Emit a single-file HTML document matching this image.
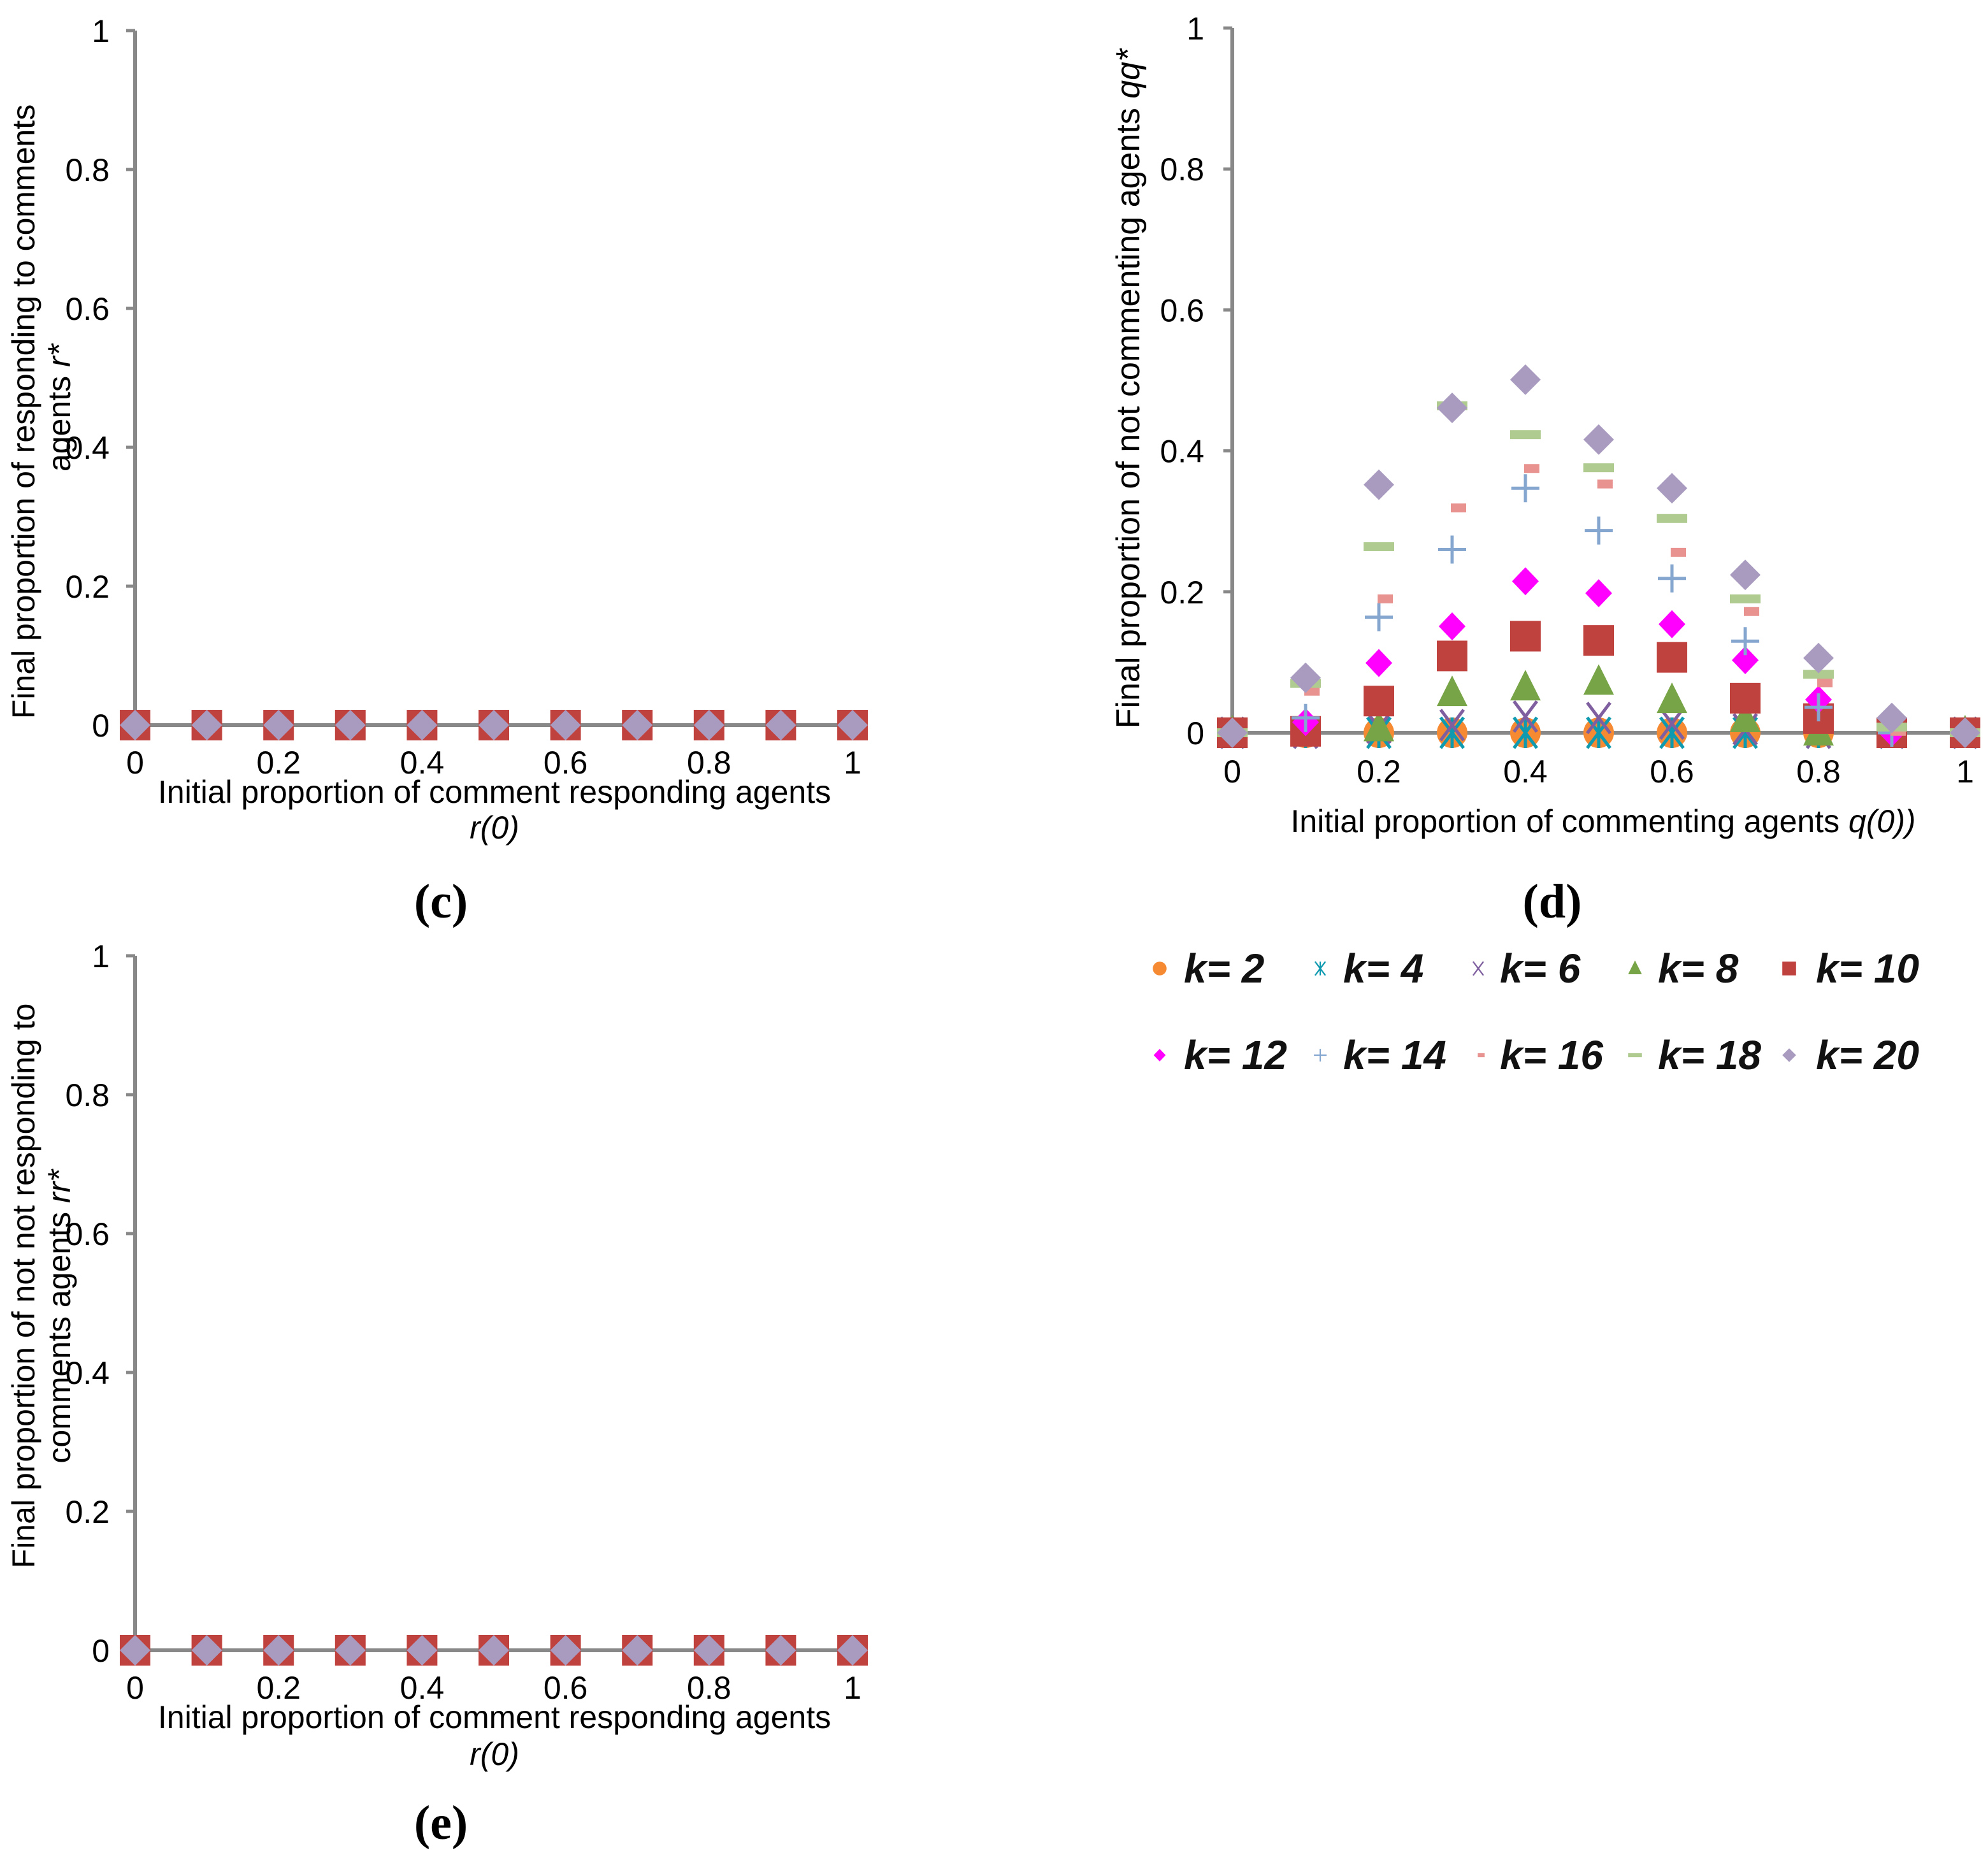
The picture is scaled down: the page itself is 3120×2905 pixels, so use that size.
<!DOCTYPE html>
<html><head><meta charset="utf-8">
<style>
html,body{margin:0;padding:0;background:#fff;}
svg{display:block;font-family:"Liberation Sans",sans-serif;}
</style></head>
<body>
<svg id="root" width="3120" height="2905" viewBox="0 0 3120 2905" xmlns="http://www.w3.org/2000/svg"></svg>
<script>
const xCats = [0,0.1,0.2,0.3,0.4,0.5,0.6,0.7,0.8,0.9,1];
const xTicks = [0,0.2,0.4,0.6,0.8,1];
const yTicks = [0,0.2,0.4,0.6,0.8,1];
const kLabels = ["k= 2","k= 4","k= 6","k= 8","k= 10","k= 12","k= 14","k= 16","k= 18","k= 20"];
const k2 = [0,0,0,0,0,0,0,0,0,0,0];
const k4 = [0,0,0,0,0,0,0,0,0,0,0];
const k6 = [0,0,0.007,0.011,0.023,0.021,0.013,0.005,0,0,0];
const k8 = [0,0,0.006,0.056,0.064,0.072,0.046,0.019,0,0,0];
const k10 = [0,0.002,0.045,0.109,0.137,0.131,0.107,0.049,0.02,0,0];
const k12 = [0,0.015,0.099,0.151,0.215,0.198,0.154,0.103,0.047,0,0];
const k14 = [0,0.021,0.164,0.26,0.347,0.287,0.219,0.13,0.036,0,0];
const k16 = [0,0.059,0.19,0.319,0.375,0.353,0.256,0.172,0.071,0.002,0];
const k18 = [0,0.07,0.264,0.464,0.423,0.376,0.304,0.19,0.083,0.008,0];
const k20 = [0,0.078,0.352,0.461,0.501,0.416,0.347,0.224,0.106,0.021,0];
const cZero = [0,0,0,0,0,0,0,0,0,0,0];

const NS="http://www.w3.org/2000/svg";
const root=document.getElementById('root');
function mk(tag,attrs,parent){const e=document.createElementNS(NS,tag);for(const k in attrs)e.setAttribute(k,attrs[k]);(parent||root).appendChild(e);return e;}
function txt(s,x,y,size,parent,extra){const t=mk('text',Object.assign({x:x,y:y,'font-size':size,fill:'#000'},extra||{}),parent);t.textContent=s;return t;}

const styles=[
 {c:'#F58A32',m:'circle'},{c:'#0F9AB0',m:'star'},{c:'#7F5F9F',m:'x'},{c:'#77A446',m:'tri'},
 {c:'#C0423F',m:'square'},{c:'#FF00FF',m:'diamondS'},{c:'#85A6CF',m:'plus'},{c:'#E89390',m:'small'},
 {c:'#AFCB8F',m:'dash'},{c:'#A99BC0',m:'diamond'}];

function marker(g,type,color,x,y,s){
  s=s||1;let e;
  if(type==='circle'){e=mk('ellipse',{cx:x,cy:y,rx:24*s,ry:24*s,fill:color},g);}
  else if(type==='square'){e=mk('rect',{x:x-24*s,y:y-24*s,width:48*s,height:48*s,fill:color},g);}
  else if(type==='small'){e=mk('rect',{x:x+10*s-12*s,y:y-7*s,width:24*s,height:14*s,fill:color},g);}
  else if(type==='dash'){e=mk('rect',{x:x-24*s,y:y-7*s,width:48*s,height:14*s,fill:color},g);}
  else if(type==='diamond'){e=mk('polygon',{points:`${x},${y-24*s} ${x+24*s},${y} ${x},${y+24*s} ${x-24*s},${y}`,fill:color},g);}
  else if(type==='diamondS'){e=mk('polygon',{points:`${x},${y-22*s} ${x+21*s},${y} ${x},${y+22*s} ${x-21*s},${y}`,fill:color},g);}
  else if(type==='tri'){e=mk('polygon',{points:`${x},${y-28*s} ${x+24*s},${y+20*s} ${x-24*s},${y+20*s}`,fill:color},g);}
  else if(type==='plus'){e=mk('path',{d:`M${x-22*s},${y}H${x+22*s}M${x},${y-22*s}V${y+22*s}`,stroke:color,'stroke-width':5*s,fill:'none'},g);}
  else if(type==='x'){e=mk('path',{d:`M${x-18*s},${y-24*s}L${x+18*s},${y+24*s}M${x+18*s},${y-24*s}L${x-18*s},${y+24*s}`,stroke:color,'stroke-width':5*s,fill:'none'},g);}
  else if(type==='star'){e=mk('path',{d:`M${x-18*s},${y-24*s}L${x+18*s},${y+24*s}M${x+18*s},${y-24*s}L${x-18*s},${y+24*s}M${x},${y-24*s}V${y+24*s}`,stroke:color,'stroke-width':5*s,fill:'none'},g);}
  return e;
}

function panel(name,X0,X1,Y0,Y1,tickRight,xLabelY){
  const g=mk('g',{});
  
  
  const xs=v=>X0+(X1-X0)*v, ys=v=>Y0-(Y0-Y1)*v;
  const ya=mk('line',{x1:X0,y1:Y1,x2:X0,y2:Y0,stroke:'#888',"stroke-width":6},g);
  
  
  const xa=mk('line',{x1:X0,y1:Y0,x2:X1,y2:Y0,stroke:'#888',"stroke-width":6},g);
  
  
  yTicks.forEach(v=>{
    mk('line',{x1:X0-14,y1:ys(v),x2:X0,y2:ys(v),stroke:'#888','stroke-width':5},g);
    const t=txt(String(v),tickRight,ys(v)+18,50,g,{'text-anchor':'end'});
    
    
  });
  xTicks.forEach(v=>{
    const t=txt(String(v),xs(v),xLabelY,50,g,{'text-anchor':'middle'});
    
    
  });
  return {g,xs,ys};
}

// panel c
const pc=panel('panel-c',212,1338,1138,48,172,1214);
xCats.forEach((x,i)=>{
  const m1=marker(pc.g,'square','#C0423F',pc.xs(x),pc.ys(cZero[i]));
  
  
  const m2=marker(pc.g,'diamond','#A99BC0',pc.xs(x),pc.ys(cZero[i]));
  
  
});
let t;
t=txt('Initial proportion of comment responding agents',776,1260,50,pc.g,{'text-anchor':'middle'});


t=txt('r(0)',776,1316,50,pc.g,{'text-anchor':'middle','font-style':'italic'});


t=mk('text',{'font-size':50,'text-anchor':'middle',transform:'translate(54,646) rotate(-90)'},pc.g);
t.textContent='Final proportion of responding to comments';


t=mk('text',{'font-size':50,'text-anchor':'middle',transform:'translate(110,640) rotate(-90)'},pc.g);
t.innerHTML='agents <tspan font-style="italic">r*</tspan>';


t=txt('(c)',692,1440,76,root,{'text-anchor':'middle','font-weight':'bold','font-family':'Liberation Serif, serif'});



// panel e
const pe=panel('panel-e',212,1338,2590,1500,172,2666);
xCats.forEach((x,i)=>{
  const m1=marker(pe.g,'square','#C0423F',pe.xs(x),pe.ys(cZero[i]));
  
  
  const m2=marker(pe.g,'diamond','#A99BC0',pe.xs(x),pe.ys(cZero[i]));
  
  
});
t=txt('Initial proportion of comment responding agents',776,2712,50,pe.g,{'text-anchor':'middle'});


t=txt('r(0)',776,2770,50,pe.g,{'text-anchor':'middle','font-style':'italic'});


t=mk('text',{'font-size':50,'text-anchor':'middle',transform:'translate(54,2018) rotate(-90)'},pe.g);
t.textContent='Final proportion of not not responding to';


t=mk('text',{'font-size':50,'text-anchor':'middle',transform:'translate(110,2066) rotate(-90)'},pe.g);
t.innerHTML='comments agents <tspan font-style="italic">rr*</tspan>';


t=txt('(e)',692,2886,76,root,{'text-anchor':'middle','font-weight':'bold','font-family':'Liberation Serif, serif'});



// panel d
const pd=panel('panel-d',1934,3084,1150,44,1890,1228);
const series=[k2,k4,k6,k8,k10,k12,k14,k16,k18,k20];
series.forEach((arr,si)=>{
  xCats.forEach((x,i)=>{
    const m=marker(pd.g,styles[si].m,styles[si].c,pd.xs(x),pd.ys(arr[i]));
    
    
  });
});
t=mk('text',{'font-size':50,'text-anchor':'middle',x:2516,y:1306},pd.g);
t.innerHTML='Initial proportion of commenting agents <tspan font-style="italic">q(0))</tspan>';


t=mk('text',{'font-size':52,'text-anchor':'middle',transform:'translate(1788,610) rotate(-90)'},pd.g);
t.innerHTML='Final proportion of not commenting agents <tspan font-style="italic">qq*</tspan>';


t=txt('(d)',2436,1440,76,root,{'text-anchor':'middle','font-weight':'bold','font-family':'Liberation Serif, serif'});



// legend
const leg=mk('g',{});


const legMX=[1820,2072,2320,2566,2808];
const legTX=[1858,2108,2354,2602,2850];
kLabels.forEach((lab,i)=>{
  const row=Math.floor(i/5),col=i%5;
  const y=row?1656:1520;
  const ent=mk('g',{},leg);
  
  
  marker(ent,styles[i].m,styles[i].c,legMX[col],y,0.45);
  txt(lab,legTX[col],y+22,64,ent,{'font-style':'italic','font-weight':'bold','fill':'#111'});
});
</script>
</body></html>
